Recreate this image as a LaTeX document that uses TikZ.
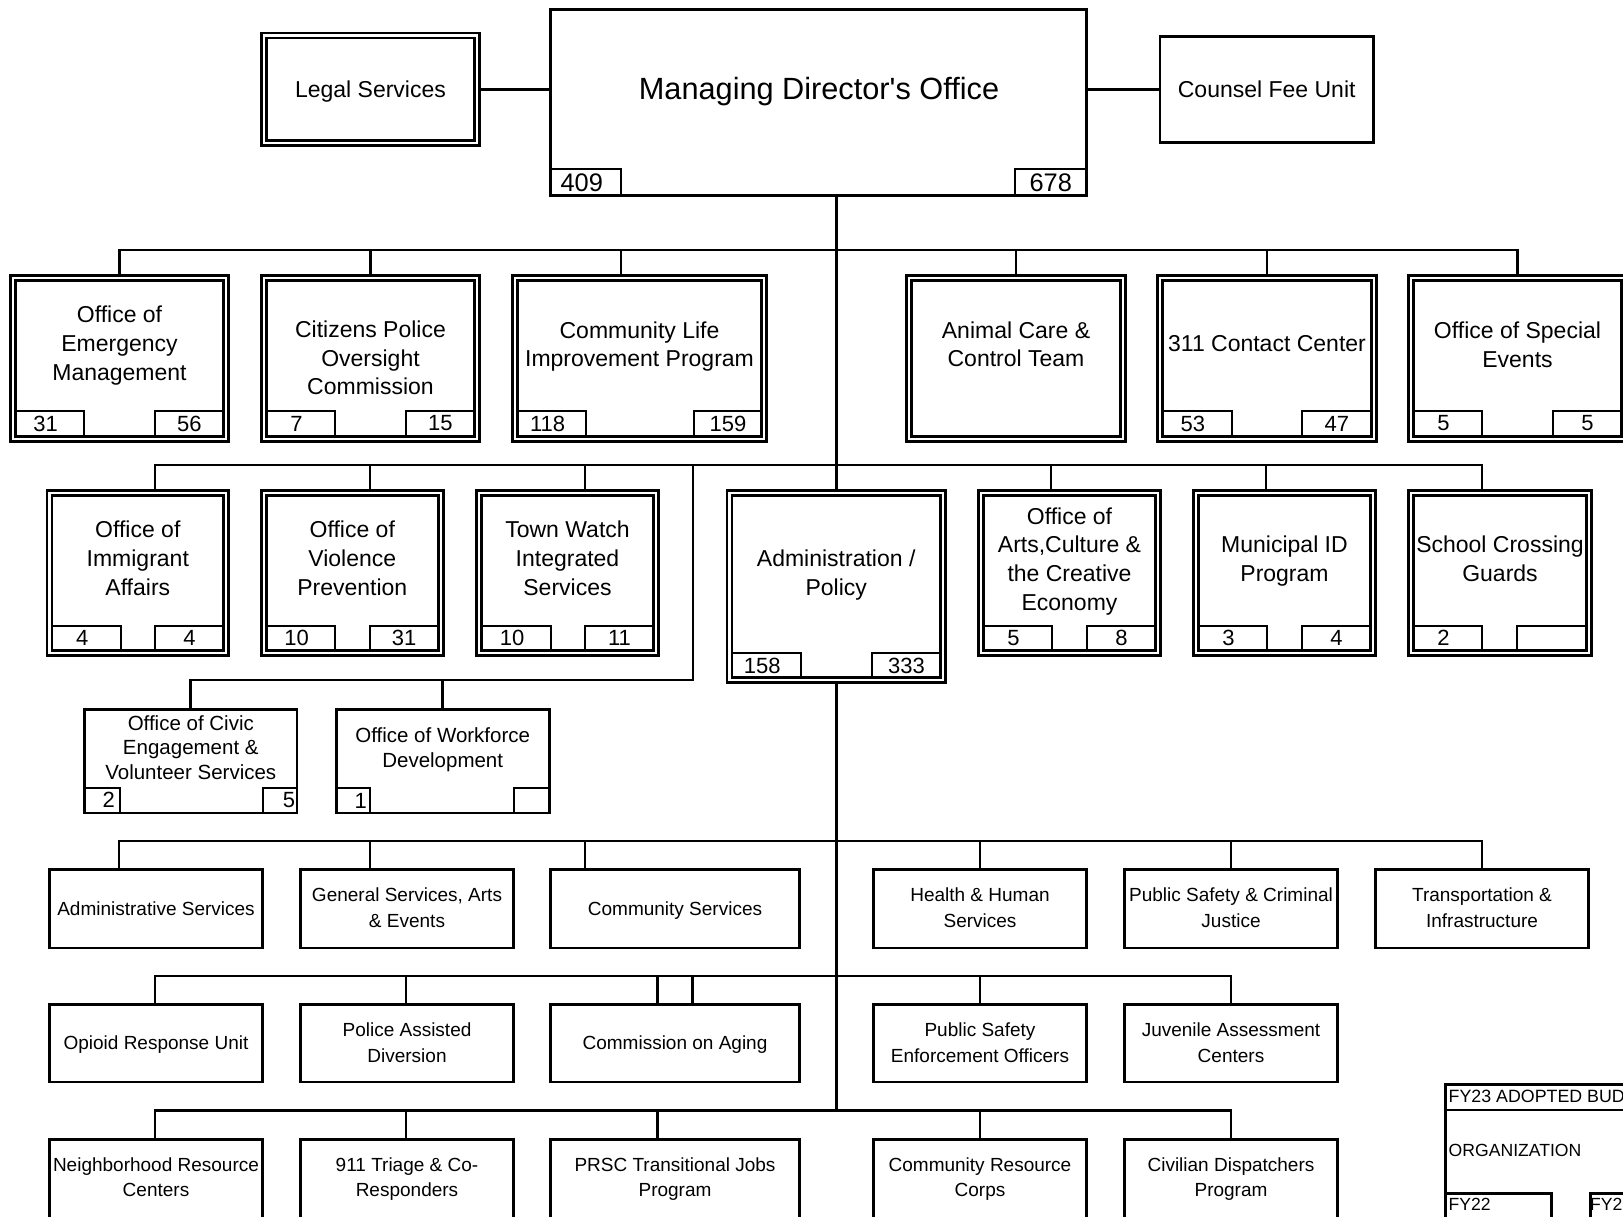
\documentclass[tikz,border=0pt]{standalone}
\usepackage{fontspec}
\setmainfont{Liberation Sans}
\usetikzlibrary{backgrounds}

% boxes given by their outer edges: name, x1, y1, x2, y2
\newcommand{\DBox}[5]{\node[dbl, minimum width={#4-#2-7.6}, minimum height={#5-#3-7.6}] (#1) at ({(#2+#4)/2},{(#3+#5)/2}) {};}
\newcommand{\SBox}[5]{\node[sgl, minimum width={#4-#2-2.8}, minimum height={#5-#3-2.8}] (#1) at ({(#2+#4)/2},{(#3+#5)/2}) {};}
% small count boxes given by their line centres
\newcommand{\NBox}[7][]{\node[nbx, #1, minimum width={#5-#3}, minimum height={#6-#4}] (#2) at ({(#3+#5)/2},{(#4+#6)/2}) {#7};}

\begin{document}
\begin{tikzpicture}[x=1pt, y=-1pt, line join=miter,
  sgl/.style={draw, line width=2.8pt, fill=white, inner sep=0pt, outer sep=0pt},
  dbl/.style={draw, line width=2.6pt, double=white, double distance=2.4pt, fill=white, inner sep=0pt, outer sep=0pt},
  nbx/.style={draw, line width=2pt, inner sep=0pt, outer sep=0pt, font=\fontsize{22}{26}\selectfont},
  lft/.style={execute at begin node={\kern-8pt}},
  conn/.style={line width=2.8pt},
  lbl/.style={align=center, inner sep=0pt, execute at begin node={\vphantom{Ag}}},
  tA/.style={lbl, font=\fontsize{23}{28.7}\selectfont},
  tB/.style={lbl, font=\fontsize{20.5}{24.7}\selectfont},
  tC/.style={lbl, font=\fontsize{19}{25.3}\selectfont},
  tT/.style={lbl, font=\fontsize{30.7}{36}\selectfont},
  tN/.style={inner sep=0pt, font=\fontsize{22}{26}\selectfont},
  tL/.style={inner sep=0pt, anchor=west, font=\fontsize{17.6}{20}\selectfont},
  bignum/.style={font=\fontsize{25.4}{30}\selectfont},
]
\useasboundingbox (0,0) rectangle (1623,1217);
\clip (0,0) rectangle (1623,1217);

% ---------- head office ----------
\SBox{mdo}{549}{8}{1088}{197}
\NBox[bignum,lft]{mdo-l}{550.4}{169}{621}{195.6}{409}
\NBox[bignum]{mdo-r}{1015}{169}{1086.6}{195.6}{678}
\node[tT] (mdo-t) at (819,92) {Managing Director\textquotesingle s Office};
\DBox{legal}{260}{31.7}{481}{146.7}
\node[tA] (legal-t) at (370.5,91.3) {Legal Services};
\SBox{counsel}{1158.5}{35}{1375}{144}
\node[tA] (counsel-t) at (1266.7,91.3) {Counsel Fee Unit};

% ---------- first tier ----------
\DBox{oem}{9}{274}{230}{442.5}
\NBox[lft]{oem-l}{15.15}{410.7}{84}{436.35}{31}
\NBox{oem-r}{155}{410.7}{223.85}{436.35}{56}
\node[tA] (oem-t) at (119.5,345.6) {Office of\\Emergency\\Management};

\DBox{cpoc}{260}{274}{481}{442.5}
\NBox[lft]{cpoc-l}{266.15}{410.7}{335}{436.35}{7}
\NBox{cpoc-r}{406}{410.7}{474.85}{436.35}{15}
\node[tA] (cpoc-t) at (370.5,360.3) {Citizens Police\\Oversight\\Commission};

\DBox{clip}{511}{274}{768}{442.5}
\NBox[lft]{clip-l}{517.15}{410.7}{586}{436.35}{118}
\NBox{clip-r}{694}{410.7}{761.85}{436.35}{159}
\node[tA] (clip-t) at (639.5,346.5) {Community Life\\Improvement Program};

\DBox{acct}{905}{274}{1127}{442.5}
\node[tA] (acct-t) at (1016,346.5) {Animal Care \&\\Control Team};

\DBox{c311}{1156}{274}{1378}{442.5}
\NBox[lft]{c311-l}{1162.15}{410.7}{1231.5}{436.35}{53}
\NBox{c311-r}{1302}{410.7}{1371.85}{436.35}{47}
\node[tA] (c311-t) at (1267,345.6) {311 Contact Center};

\DBox{ose}{1407}{274}{1628}{442.5}
\NBox[lft]{ose-l}{1413.15}{410.7}{1482}{436.35}{5}
\NBox{ose-r}{1553}{410.7}{1621.85}{436.35}{5}
\node[tA] (ose-t) at (1517.5,347.3) {Office of Special\\Events};

% ---------- second tier ----------
\DBox{oia}{45.5}{489}{230}{656.7}
\NBox[lft]{oia-l}{51.65}{625.7}{121}{650.55}{4}
\NBox{oia-r}{155}{625.7}{223.85}{650.55}{4}
\node[tA] (oia-t) at (137.8,560.6) {Office of\\Immigrant\\Affairs};

\DBox{ovp}{260}{489}{444.6}{656.7}
\NBox[lft]{ovp-l}{266.15}{625.7}{335}{650.55}{10}
\NBox{ovp-r}{370}{625.7}{438.45}{650.55}{31}
\node[tA] (ovp-t) at (352.3,560.6) {Office of\\Violence\\Prevention};

\DBox{tw}{475}{489}{660}{656.7}
\NBox[lft]{tw-l}{481.15}{625.7}{551}{650.55}{10}
\NBox{tw-r}{585}{625.7}{653.85}{650.55}{11}
\node[tA] (tw-t) at (567.5,560.6) {Town Watch\\Integrated\\Services};

\DBox{admin}{725.7}{489}{946.7}{684}
\NBox[lft]{admin-l}{731.85}{653.3}{800.7}{677.85}{158}
\NBox{admin-r}{872.3}{653.3}{940.55}{677.85}{333}
\node[tA] (admin-t) at (836.2,574.8) {Administration /\\Policy};

\DBox{arts}{977}{489}{1162}{656.7}
\NBox[lft]{arts-l}{983.15}{625.7}{1052}{650.55}{5}
\NBox{arts-r}{1087}{625.7}{1155.85}{650.55}{8}
\node[tA] (arts-t) at (1069.5,561.1) {Office of\\Arts,Culture \&\\the Creative\\Economy};

\DBox{muni}{1192}{489}{1377}{656.7}
\NBox[lft]{muni-l}{1198.15}{625.7}{1267}{650.55}{3}
\NBox{muni-r}{1302}{625.7}{1370.85}{650.55}{4}
\node[tA] (muni-t) at (1284.5,561.1) {Municipal ID\\Program};

\DBox{scg}{1407}{489}{1593}{656.7}
\NBox[lft]{scg-l}{1413.15}{625.7}{1482}{650.55}{2}
\NBox{scg-r}{1516.5}{625.7}{1586.85}{650.55}{}
\node[tA] (scg-t) at (1500,561.1) {School Crossing\\Guards};

% ---------- offices under the second tier ----------
\SBox{civic}{83.3}{707.7}{298.3}{814.3}
\NBox{civic-l}{84.7}{787.7}{120}{812.9}{}
\NBox{civic-r}{263.3}{787.7}{296.9}{812.9}{}
\node[tN, anchor=east] (civic-ln) at ([xshift=-5pt]civic-l.east) {2};
\node[tN, anchor=east] (civic-rn) at ([xshift=-1.5pt]civic-r.east) {5};
\node[tB] (civic-t) at (190.8,749.6) {Office of Civic\\Engagement \&\\Volunteer Services};

\SBox{owd}{334.7}{707.7}{550.7}{814.3}
\NBox{owd-l}{336.1}{788}{370}{812.9}{}
\NBox{owd-r}{514}{788}{549.3}{812.9}{}
\node[tN, anchor=east] (owd-ln) at ([xshift=-3pt]owd-l.east) {1};
\node[tB] (owd-t) at (442.7,749.5) {Office of Workforce\\Development};

% ---------- divisions ----------
\SBox{adms}{48}{868}{264}{949.3}
\node[tC] (adms-t) at (156,910.2) {Administrative Services};
\SBox{gsae}{299}{868}{515}{949.3}
\node[tC] (gsae-t) at (407,909.7) {General Services, Arts\\\& Events};
\SBox{cmsv}{549}{868}{801}{949.3}
\node[tC] (cmsv-t) at (675,910.2) {Community Services};
\SBox{hhs}{872}{868}{1088}{949.3}
\node[tC] (hhs-t) at (980,909.7) {Health \& Human\\Services};
\SBox{pscj}{1123}{868}{1339}{949.3}
\node[tC] (pscj-t) at (1231,909.7) {Public Safety \& Criminal\\Justice};
\SBox{tri}{1374}{868}{1590}{949.3}
\node[tC] (tri-t) at (1482,909.7) {Transportation \&\\Infrastructure};

% ---------- programs ----------
\SBox{oru}{48}{1003.3}{264}{1083.3}
\node[tC] (oru-t) at (156,1044.6) {Opioid Response Unit};
\SBox{pad}{299}{1003.3}{515}{1083.3}
\node[tC] (pad-t) at (407,1044.7) {Police Assisted\\Diversion};
\SBox{coa}{549}{1003.3}{801}{1083.3}
\node[tC] (coa-t) at (675,1044.6) {Commission on Aging};
\SBox{pseo}{872}{1003.3}{1088}{1083.3}
\node[tC] (pseo-t) at (980,1044.7) {Public Safety\\Enforcement Officers};
\SBox{jac}{1123}{1003.3}{1339}{1083.3}
\node[tC] (jac-t) at (1231,1044.7) {Juvenile Assessment\\Centers};

\SBox{nrc}{48}{1137.7}{264}{1260}
\node[tC] (nrc-t) at (156,1179.4) {Neighborhood Resource\\Centers};
\SBox{tcr}{299}{1137.7}{515}{1260}
\node[tC] (tcr-t) at (407,1179.4) {911 Triage \& Co-\\Responders};
\SBox{prsc}{549}{1137.7}{801}{1260}
\node[tC] (prsc-t) at (675,1179.4) {PRSC Transitional Jobs\\Program};
\SBox{crc}{872}{1137.7}{1088}{1260}
\node[tC] (crc-t) at (980,1179.4) {Community Resource\\Corps};
\SBox{cdp}{1123}{1137.7}{1339}{1260}
\node[tC] (cdp-t) at (1231,1179.4) {Civilian Dispatchers\\Program};

% ---------- legend ----------
\SBox{leghd}{1444.3}{1082.7}{1760}{1111.4}
\SBox{legbd}{1444.3}{1108.6}{1760}{1300}
\SBox{legfa}{1444.3}{1191.7}{1553}{1300}
\SBox{legfb}{1589}{1191.7}{1760}{1300}
\node[tL, font=\fontsize{17.8}{20}\selectfont] (leg-t1) at (1448.5,1096) {FY23 ADOPTED BUDGET};
\node[tL] (leg-t2) at (1448.5,1150.7) {ORGANIZATION};
\node[tL] (leg-t3) at (1448.5,1204.5) {FY22};
\node[tL] (leg-t4) at (1590,1204.5) {FY23};

% ---------- bus lines ----------
\coordinate (r1a) at (119.5,250);  \coordinate (r1b) at (370.5,250);
\coordinate (r1c) at (621,250);    \coordinate (r1d) at (1016,250);
\coordinate (r1e) at (1267,250);   \coordinate (r1f) at (1517.5,250);

\coordinate (r2a) at (155,465);  \coordinate (r2b) at (370,465);
\coordinate (r2c) at (585,465);  \coordinate (r2d) at (693,465);
\coordinate (r2e) at (1051,465); \coordinate (r2f) at (1266,465);
\coordinate (r2g) at (1482,465);

\coordinate (r3d) at (693,680); \coordinate (r3a) at (190.8,680);
\coordinate (r3b) at (442.7,680);

\coordinate (r4a) at (119,841);  \coordinate (r4b) at (370,841);
\coordinate (r4c) at (585,841);  \coordinate (r4d) at (980,841);
\coordinate (r4e) at (1231,841); \coordinate (r4f) at (1482,841);

\coordinate (r5a) at (155,976);   \coordinate (r5b) at (406,976);
\coordinate (r5c) at (657.3,976); \coordinate (r5d) at (692.7,976);
\coordinate (r5e) at (980,976);   \coordinate (r5f) at (1231,976);

\coordinate (r6a) at (155,1110.7);   \coordinate (r6b) at (406,1110.7);
\coordinate (r6c) at (657.3,1110.7); \coordinate (r6d) at (980,1110.7);
\coordinate (r6e) at (1231,1110.7);

\begin{pgfonlayer}{background}
\fill[white] (0,0) rectangle (1623,1217);
% side offices
\draw[conn] (legal.east) -- (legal.east -| mdo.west);
\draw[conn] (counsel.west) -- (counsel.west -| mdo.east);
% main trunk
\draw[conn] (mdo.south -| admin.north) -- (admin.north);
\draw[conn] (admin.south) -- (admin.south |- r6a);
% first tier
\draw[conn] (oem.north) -- (r1a) -- (r1f) -- (ose.north);
\draw[conn] (r1b) -- (r1b |- cpoc.north);
\draw[conn] (r1c) -- (r1c |- clip.north);
\draw[conn] (r1d) -- (r1d |- acct.north);
\draw[conn] (r1e) -- (r1e |- c311.north);
% second tier
\draw[conn] (r2a |- oia.north) -- (r2a) -- (r2g) -- (r2g |- scg.north);
\draw[conn] (r2b) -- (r2b |- ovp.north);
\draw[conn] (r2c) -- (r2c |- tw.north);
\draw[conn] (r2e) -- (r2e |- arts.north);
\draw[conn] (r2f) -- (r2f |- muni.north);
\draw[conn] (r2d) -- (r3d) -- (r3a) -- (r3a |- civic.north);
\draw[conn] (r3b) -- (r3b |- owd.north);
% divisions
\draw[conn] (r4a |- adms.north) -- (r4a) -- (r4f) -- (r4f |- tri.north);
\draw[conn] (r4b) -- (r4b |- gsae.north);
\draw[conn] (r4c) -- (r4c |- cmsv.north);
\draw[conn] (r4d) -- (r4d |- hhs.north);
\draw[conn] (r4e) -- (r4e |- pscj.north);
% programs
\draw[conn] (r5a |- oru.north) -- (r5a) -- (r5f) -- (r5f |- jac.north);
\draw[conn] (r5b) -- (r5b |- pad.north);
\draw[conn] (r5c) -- (r5c |- coa.north);
\draw[conn] (r5d) -- (r5d |- coa.north);
\draw[conn] (r5e) -- (r5e |- pseo.north);
\draw[conn] (r6a |- nrc.north) -- (r6a) -- (r6e) -- (r6e |- cdp.north);
\draw[conn] (r6b) -- (r6b |- tcr.north);
\draw[conn] (r6c) -- (r6c |- prsc.north);
\draw[conn] (r6d) -- (r6d |- crc.north);
\end{pgfonlayer}
\end{tikzpicture}
\end{document}
